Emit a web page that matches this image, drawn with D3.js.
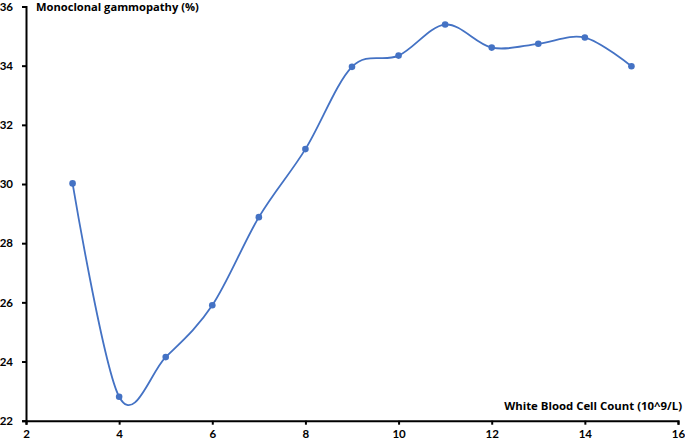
<!DOCTYPE html>
<html>
<head>
<meta charset="utf-8">
<script src="https://cdn.jsdelivr.net/npm/d3@7"></script>
<style>
  body { margin: 0; background: #fff; }
  svg text { font-family: Lato, "Open Sans", sans-serif; font-weight: bold; }
  svg text.title { font-family: "Open Sans", Lato, sans-serif; }
</style>
</head>
<body>
<svg id="chart-area"></svg>
<script>
// data
const wbcCount = [3, 4, 5, 6, 7, 8, 9, 10, 11, 12, 13, 14, 15]
const gammopathyPct = [30.02, 22.81, 24.15, 25.9, 28.88, 31.18, 33.96, 34.34, 35.39, 34.61, 34.74, 34.95, 33.98]
const xTicks = [2, 4, 6, 8, 10, 12, 14, 16]
const yTicks = [22, 24, 26, 28, 30, 32, 34, 36]

const dataset = wbcCount.map((x, i) => ({ x: x, y: gammopathyPct[i] }))

const svgWidth = 685
const svgHeight = 442

const svg = d3.select("#chart-area")
    .attr("width", svgWidth)
    .attr("height", svgHeight)

const xScale = d3.scaleLinear()
    .domain([2, 16])
    .range([26, 678])

const yScale = d3.scaleLinear()
    .domain([22, 36])
    .range([420.7, 6.5])

// axes
const xAxis = svg.append("g")
    .attr("transform", `translate(0,${yScale(22)})`)
    .call(d3.axisBottom(xScale).tickValues(xTicks).tickSize(4).tickSizeOuter(4).tickPadding(5))
xAxis.select(".domain").attr("stroke", "#000").attr("stroke-width", 2)
xAxis.selectAll(".tick line").attr("stroke", "#000").attr("stroke-width", 2)
xAxis.selectAll(".tick text").attr("font-size", 11.5).attr("fill", "#000")

const yAxis = svg.append("g")
    .attr("transform", `translate(${xScale(2)},0)`)
    .call(d3.axisLeft(yScale).tickValues(yTicks).tickSize(4).tickSizeOuter(4).tickPadding(9))
yAxis.select(".domain").attr("stroke", "#000").attr("stroke-width", 2)
yAxis.selectAll(".tick line").attr("stroke", "#000").attr("stroke-width", 2)
yAxis.selectAll(".tick text").attr("font-size", 11.5).attr("fill", "#000")

// axis titles, sized to the width they take in the picture
function fitTitle(sel, width) {
    const w = sel.node().getComputedTextLength()
    sel.attr("font-size", 12 * width / w)
}

svg.append("text")
    .attr("class", "title")
    .attr("x", 36)
    .attr("y", 11)
    .attr("font-size", 12)
    .attr("fill", "#000")
    .text("Monoclonal gammopathy (%)")
    .call(fitTitle, 163)

svg.append("text")
    .attr("class", "title")
    .attr("x", 682)
    .attr("y", 410)
    .attr("text-anchor", "end")
    .attr("font-size", 12)
    .attr("fill", "#000")
    .text("White Blood Cell Count (10^9/L)")
    .call(fitTitle, 178)

// smoothed line
const line = d3.line()
    .x(d => xScale(d.x))
    .y(d => yScale(d.y))
    .curve(d3.curveCatmullRom.alpha(0))

svg.append("path")
    .datum(dataset)
    .attr("fill", "none")
    .attr("stroke", "#4472C4")
    .attr("stroke-width", 1.8)
    .attr("d", line)

svg.selectAll("circle")
    .data(dataset)
    .enter().append("circle")
    .attr("cx", d => xScale(d.x))
    .attr("cy", d => yScale(d.y))
    .attr("r", 3.3)
    .attr("fill", "#4472C4")
</script>
</body>
</html>
